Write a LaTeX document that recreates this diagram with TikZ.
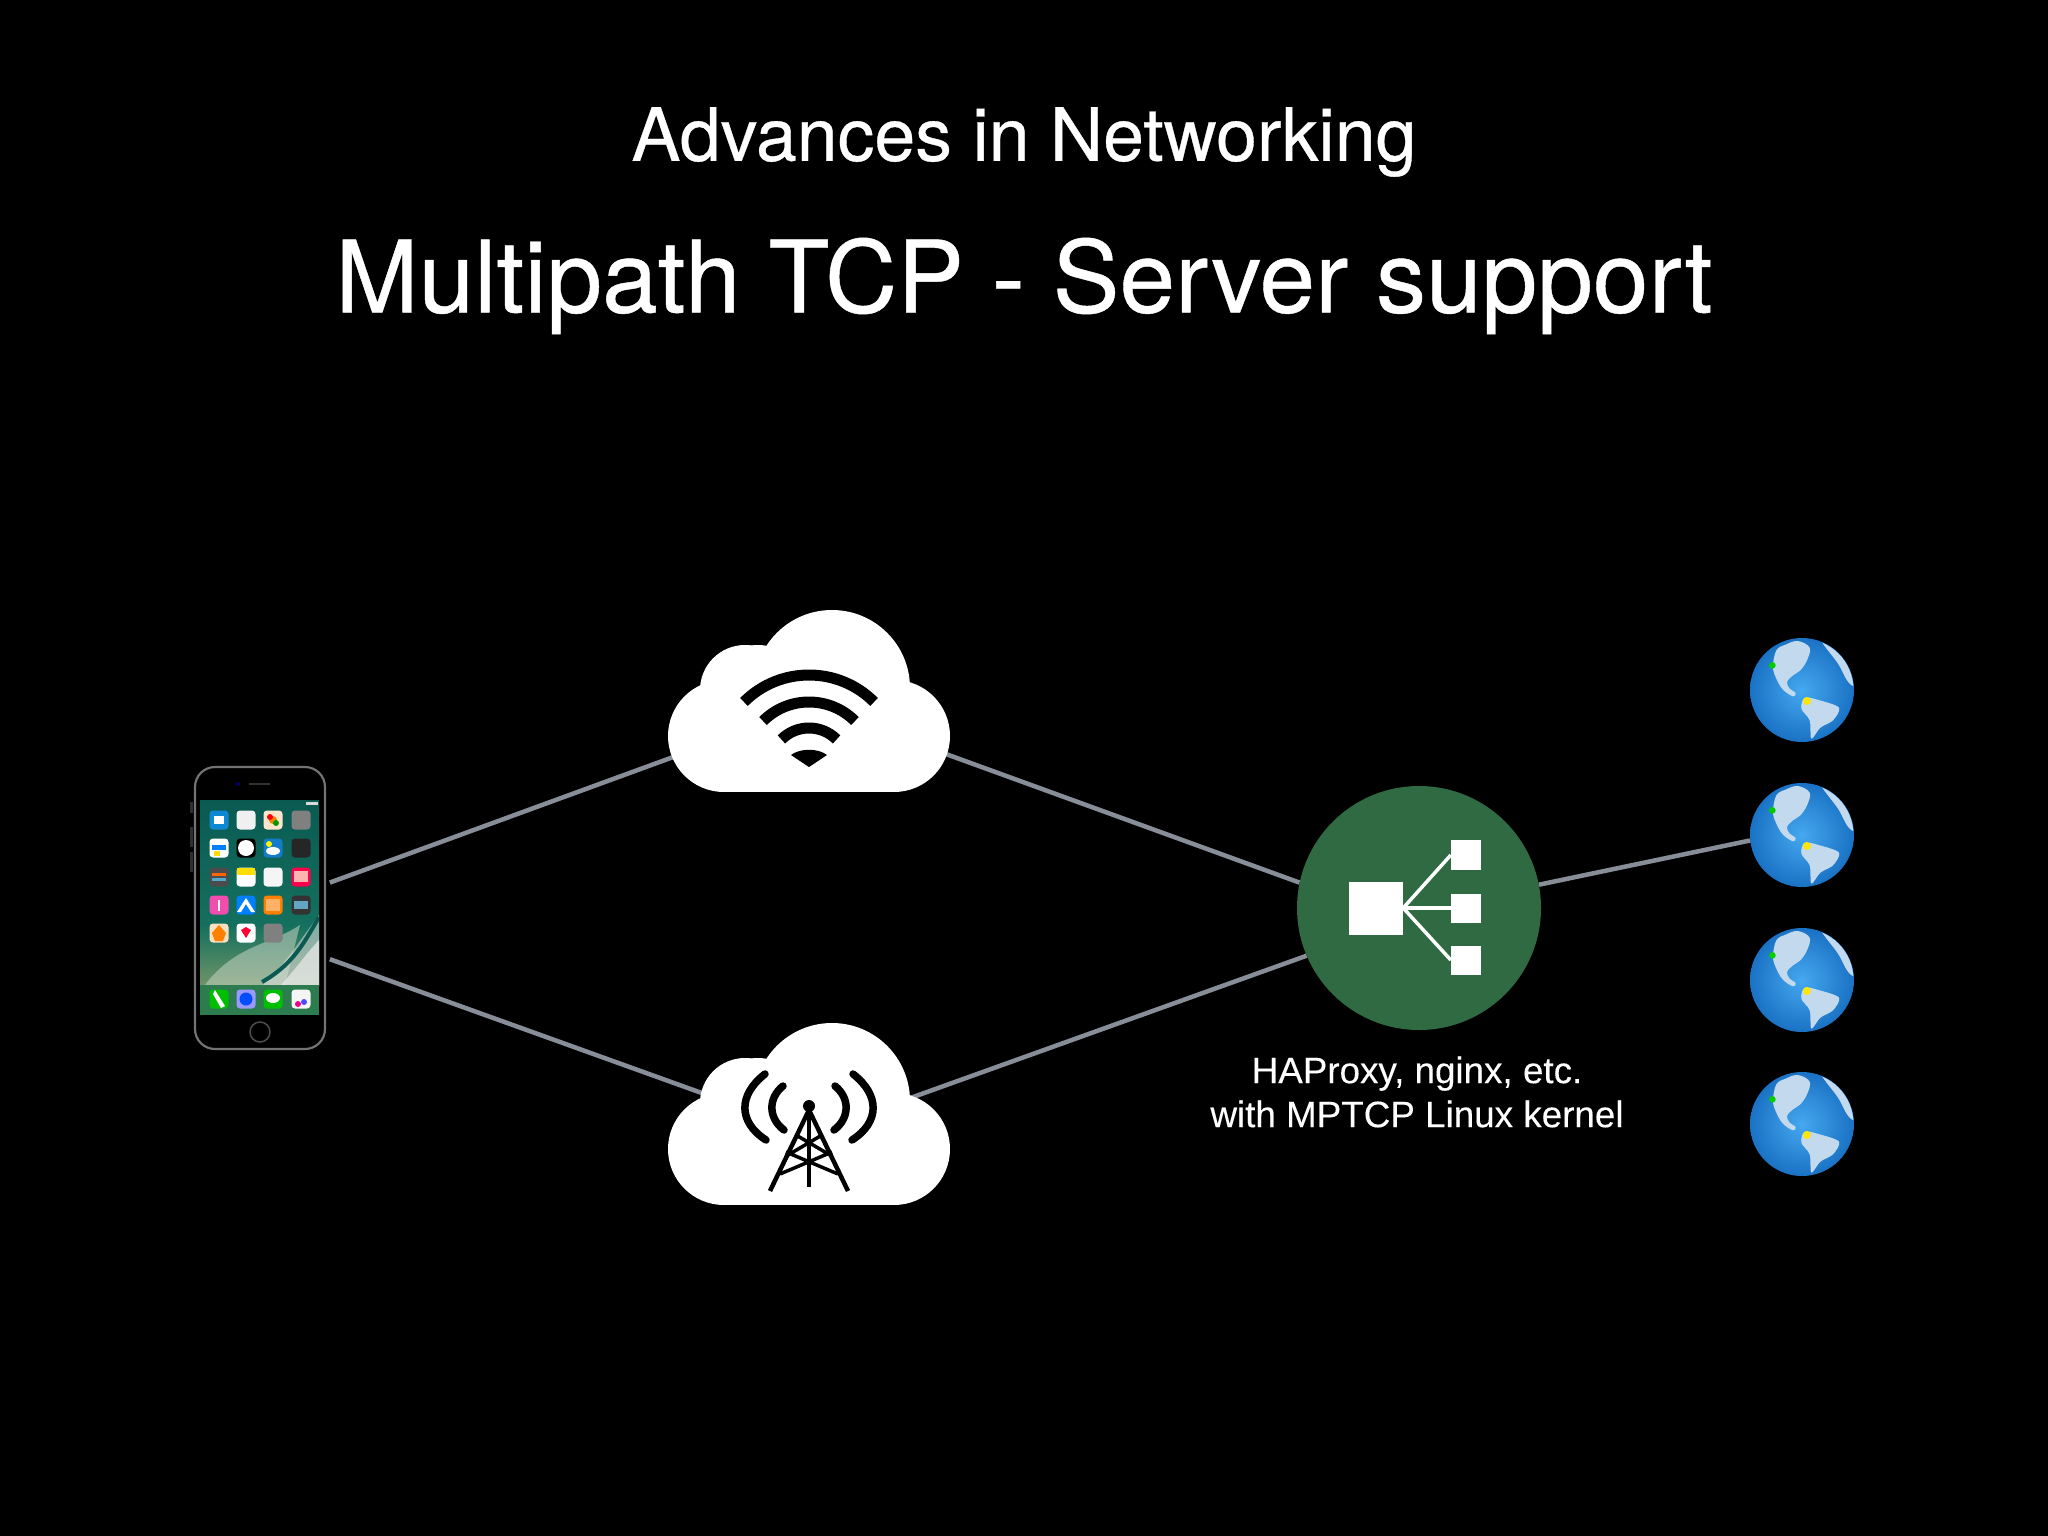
\documentclass[tikz,border=0pt]{standalone}
\usepackage{fontspec}
\setmainfont{TeX Gyre Heros}
\newfontfamily\titlefont[FakeBold=0.45]{TeX Gyre Heros}
\newfontfamily\labelfont[FakeBold=0.2]{Liberation Sans}
\definecolor{linkgray}{HTML}{878E98}
\definecolor{lbgreen}{HTML}{2F6A42}
\definecolor{HTMLglobeA}{HTML}{45A8F0}
\definecolor{HTMLglobeB}{HTML}{1A72C4}
\definecolor{landc}{HTML}{C3DAEE}
\definecolor{wallTop}{HTML}{0A5A52}
\definecolor{wallMid}{HTML}{14705E}
\definecolor{wallLow}{HTML}{6F9468}
\definecolor{dockc}{HTML}{2C7C50}
\tikzset{
  x=1pt,y=-1pt,
  titlea/.style={text=white,font=\titlefont\fontsize{73.5}{80}\selectfont,inner sep=0pt,anchor=center},
  titleb/.style={text=white,font=\titlefont\fontsize{100}{110}\selectfont,inner sep=0pt,anchor=center},
  lblstyle/.style={text=white,font=\labelfont\fontsize{36.8}{44}\selectfont,inner sep=0pt,align=center},
  link/.style={draw=linkgray,line width=4.5pt},
  anchorbox/.style={rectangle,inner sep=0pt,minimum width=160pt,minimum height=100pt},
  phonebody/.style={rectangle,rounded corners=20pt,draw=white!45!black,fill=black,line width=2.2pt,inner sep=0pt,minimum width=130pt,minimum height=282pt},
  lbcircle/.style={circle,fill=lbgreen,inner sep=0pt,minimum size=244pt},
  globeball/.style={circle,inner sep=0pt,minimum size=104pt,shading=radial,inner color=HTMLglobeA,outer color=HTMLglobeB},
  lbwhite/.style={rectangle,fill=white,inner sep=0pt},
  lbwire/.style={draw=white,line width=3.5pt},
  wifiarc/.style={draw=black,line width=11pt},
  towerline/.style={draw=black,line width=4.5pt},
  towerwave/.style={draw=black,line width=7.5pt,line cap=round},
  cloudshape/.pic={
    \fill[white] (23,-13) circle[radius=78pt];
    \fill[white] (-64,-11) circle[radius=45pt];
    \fill[white] (-51,-11) circle[radius=45pt];
    \fill[white] (-85,35) circle[radius=56pt];
    \fill[white] (85,35) circle[radius=56pt];
    \fill[white] (-85,-8) rectangle (85,91);
  },
  globeland/.pic={
    \begin{scope}
    \clip (0,0) circle[radius=51.5pt];
    \begin{scope}[scale=0.3333,shift={(-217,-209)}]
    \fill[landc] plot[smooth cycle,tension=0.6] coordinates {(140,90) (170,72) (205,62) (240,82) (232,120) (212,150) (190,165) (172,185) (180,205) (198,218) (190,228) (160,208) (140,175) (130,140)};
    \fill[landc] plot[smooth cycle,tension=0.6] coordinates {(275,60) (330,85) (375,150) (372,195) (352,180) (325,130)};
    \fill[landc] plot[smooth cycle,tension=0.5] coordinates {(225,232) (270,240) (328,262) (310,300) (272,322) (245,355) (240,300) (215,265)};
    \fill[green!80!black] (128,135) circle[radius=10pt];
    \fill[yellow!90!orange] (232,242) circle[radius=12pt];
    \end{scope}
    \end{scope}
  },
}
\begin{document}
\begin{tikzpicture}
\useasboundingbox (0,0) rectangle (2048,1536);
\fill[black] (0,0) rectangle (2048,1536);

% titles
\node[titlea] (t1) at (1024,142) {Advances in Networking};
\node[titleb] (t2) at (1024,286) {Multipath TCP - Server support};

% nodes
\fill[white!18!black] (190,802) rectangle (193,813);
\fill[white!18!black] (190,827) rectangle (193,847);
\fill[white!18!black] (190,852) rectangle (193,872);
\node[phonebody] (phone) at (260,908) {};
\node[anchorbox] (wifi) at (809,701) {};
\node[anchorbox] (cell) at (809,1114) {};
\node[lbcircle] (lb) at (1419,908) {};
\node[globeball] (g1) at (1802,690) {};
\node[globeball] (g2) at (1802,835) {};
\node[globeball] (g3) at (1802,980) {};
\node[globeball] (g4) at (1802,1124) {};

% connectors
\draw[link,shorten <=4pt] (phone.20) -- (wifi.204.5);
\draw[link] (wifi.-22.4) -- (lb.168);
\draw[link,shorten <=4pt] (phone.-37) -- (cell.172.9);
\draw[link] (cell.6.4) -- (lb.203.6);
\draw[link] (lb.11) -- (g2.186.6);

% clouds
\pic at (wifi) {cloudshape};
\pic at (cell) {cloudshape};

% wifi glyph
\coordinate (wc) at (809,767);
\draw[wifiarc] ([shift={(45:92pt)}]wc) arc[start angle=45,end angle=135,radius=92pt];
\draw[wifiarc] ([shift={(45:65pt)}]wc) arc[start angle=45,end angle=135,radius=65pt];
\draw[wifiarc] ([shift={(45:39pt)}]wc) arc[start angle=45,end angle=135,radius=39pt];
\fill[black] (809,767) -- (791,755) .. controls (800,748) and (818,748) .. (827,755) -- cycle;

% tower glyph
\draw[towerwave] (765,1074) .. controls (738,1095) and (738,1122) .. (766,1140);
\draw[towerwave] (783,1086) .. controls (768,1098) and (768,1118) .. (784,1130);
\draw[towerwave] (853,1074) .. controls (880,1095) and (880,1122) .. (852,1140);
\draw[towerwave] (835,1086) .. controls (850,1098) and (850,1118) .. (834,1130);
\fill[black] (809,1106) circle[radius=6pt];
\draw[towerline,line join=miter] (770,1191) -- (809,1110) -- (848,1191);
\draw[towerline] (809,1108) -- (809,1187);
\draw[towerline,line width=3.5pt] (788,1155) -- (822,1135) (830,1155) -- (796,1135) (780,1174) -- (832,1152) (838,1174) -- (786,1152);

% phone detail
\begin{scope}
\clip (200,800) rectangle (319,1015);
\shade[top color=wallTop,bottom color=wallMid] (200,800) rectangle (319,925);
\shade[top color=wallMid,bottom color=wallLow] (200,925) rectangle (319,986);
\fill[white!60!wallLow,opacity=0.55] (205,985) .. controls (235,945) and (270,945) .. (300,925) -- (285,985) -- cycle;
\fill[white!75!gray,opacity=0.55] (319,915) .. controls (300,940) and (285,965) .. (262,986) -- (319,986) -- cycle;
\fill[white!85!gray,opacity=0.7] (319,940) .. controls (305,955) and (295,970) .. (280,986) -- (319,986) -- cycle;
\draw[line width=4pt,wallTop] (319,917) .. controls (303,945) and (292,965) .. (262,982);
\fill[dockc] (200,985) rectangle (319,1015);
\fill[white!85!black] (306,802) rectangle (318,805);
\end{scope}
\foreach \cx/\cy/\cc in {%
219/820/cyan!70!blue,246/820/white!88!gray,273/820/white!80!orange,301/820/gray,%
219/848/white,246/848/black,273/848/cyan!60!blue,301/848/black!85,%
219/877/black!70,246/877/white,273/877/white!92!gray,301/877/red!70!magenta,%
219/905/magenta!70!white,246/905/blue!50!cyan,273/905/orange,301/905/black!80,%
219/933/white!75!orange,246/933/white,273/933/gray,%
219/999/green!75!black,246/999/white!60!blue,273/999/green!75!black,301/999/white!92!gray%
}{\fill[\cc,rounded corners=3.5pt] (\cx-9.5,\cy-9.5) rectangle (\cx+9.5,\cy+9.5);}
\fill[white] (214,816) rectangle (224,824);
\fill[orange] (273,820) circle[radius=4pt];
\fill[red] (270,817) circle[radius=3pt];
\fill[green!60!black] (276,823) circle[radius=3pt];
\fill[blue!50!cyan] (212,845) rectangle (226,850);
\fill[yellow!80!orange] (214,851) rectangle (220,856);
\fill[white] (246,848) circle[radius=8pt];
\fill[white] (273,851) ellipse[x radius=7pt,y radius=4pt];
\fill[yellow] (269,844) circle[radius=3pt];
\fill[red!60!yellow] (212,873) rectangle (226,876);
\fill[cyan!60!gray] (212,878) rectangle (226,881);
\fill[yellow!80!orange] (237,868) rectangle (255,875);
\fill[white!70!red] (294,871) rectangle (308,882);
\fill[white] (218,900) rectangle (220,911);
\fill[white] (237,912) -- (246,898) -- (255,912) -- (251,912) -- (246,904) -- (241,912) -- cycle;
\fill[white!40!orange] (266,899) rectangle (280,911);
\fill[cyan!50!gray] (294,901) rectangle (308,909);
\fill[red!80!magenta] (241,930) -- (246,938) -- (251,930) -- (246,927) -- cycle;
\fill[orange] (219,925) -- (226,933) -- (223,941) -- (215,941) -- (212,933) -- cycle;
\fill[white] (215,990) -- (225,1006) -- (221,1008) -- (213,994) -- cycle;
\fill[white] (273,998) ellipse[x radius=7pt,y radius=5pt];
\fill[blue!70!cyan] (246,999) circle[radius=6.5pt];
\fill[magenta] (298,1004) circle[radius=3pt];
\fill[blue!70!white] (304,1002) circle[radius=3pt];
\draw[white!30!black,line width=1.5pt] (260,1032) circle[radius=10pt];
\draw[white!20!black,line width=1.5pt] (249,784) -- (270,784);
\fill[blue!40!black] (238,784) circle[radius=2pt];

% load balancer icon
\node[lbwhite,minimum width=54pt,minimum height=53pt] (lbm) at (1376,908) {};
\node[lbwhite,minimum width=30pt,minimum height=30pt] (lb1) at (1466,855) {};
\node[lbwhite,minimum width=30pt,minimum height=29pt] (lb2) at (1466,908) {};
\node[lbwhite,minimum width=30pt,minimum height=29pt] (lb3) at (1466,960) {};
\draw[lbwire] (lbm.east) -- (lb1.west);
\draw[lbwire] (lbm.east) -- (lb2.west);
\draw[lbwire] (lbm.east) -- (lb3.west);
\node[lblstyle] (lbl) at (1417,1092) {HAProxy, nginx, etc.\\with MPTCP Linux kernel};

% globes
\pic at (g1) {globeland};
\pic at (g2) {globeland};
\pic at (g3) {globeland};
\pic at (g4) {globeland};
\end{tikzpicture}
\end{document}
